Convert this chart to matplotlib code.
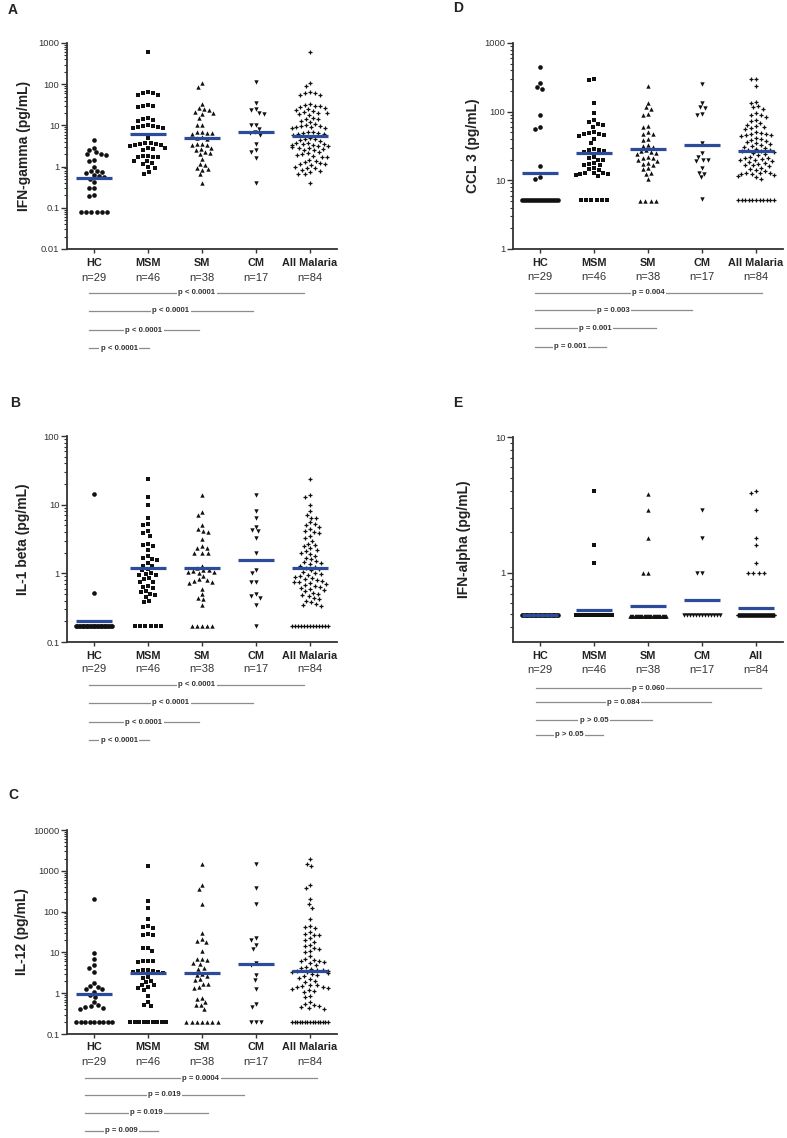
import numpy as np
import matplotlib
matplotlib.use('Agg')
import matplotlib.pyplot as plt
from matplotlib import transforms
from matplotlib.ticker import FuncFormatter, LogLocator, NullFormatter

plt.rcParams['font.family'] = ['Liberation Sans', 'DejaVu Sans']

W, H = 787, 1138

groups = ['HC', 'MSM', 'SM', 'CM', 'All Malaria']
groups_e = ['HC', 'MSM', 'SM', 'CM', 'All']
n_labels = ['n=29', 'n=46', 'n=38', 'n=17', 'n=84']
markers = ['o', 's', '^', 'v', '+']
msize = [11, 9.5, 10, 10, 11]

# ---- A: IFN-gamma
A_HC = [4.4, 2.9, 2.6, 2.2, 2.0, 2.0, 1.9, 1.45, 1.4, 1.0, 0.8, 0.78, 0.75, 0.7, 0.62,
        0.58, 0.55, 0.5, 0.42, 0.3, 0.3, 0.2, 0.19, 0.08, 0.08, 0.08, 0.08, 0.08, 0.08]
A_MSM = [600, 65, 62, 60, 56, 55, 31, 30, 29, 28, 15, 14.5, 13.5, 13, 10, 9.8, 9.5, 9.3,
         9.0, 8.8, 8.5, 4.9, 3.8, 3.7, 3.6, 3.5, 3.4, 3.3, 3.2, 2.9, 2.8, 2.7, 2.6, 1.8,
         1.8, 1.75, 1.7, 1.7, 1.4, 1.35, 1.2, 1.15, 1.0, 0.95, 0.75, 0.65]
A_SM = [107, 87, 33, 26, 25, 24, 21, 20, 19, 15, 10.5, 10.5, 7, 6.8, 6.6, 6.5, 6.3, 5.2,
        5, 4.8, 3.6, 3.5, 3.4, 3.3, 2.8, 2.7, 2.6, 2.2, 2.1, 2.0, 1.5, 1.15, 1.1, 0.9,
        0.87, 0.85, 0.65, 0.41]
A_CM = [113, 35, 25, 23, 20, 19, 10, 10, 8, 7, 6.5, 6, 3.5, 2.5, 2.3, 1.6, 0.4]
A_ALL = [600, 108, 88, 65, 62, 60, 56, 55, 33, 31, 30, 29, 28, 26, 25, 24, 22, 21, 20, 20,
         19, 18, 15, 14.5, 14, 13, 12, 11, 10, 9.8, 9.5, 9.3, 9, 8.8, 8.5, 7, 6.9, 6.7,
         6.5, 6.3, 6.1, 5.9, 5, 4.8, 4.6, 4.4, 4.2, 3.8, 3.7, 3.6, 3.5, 3.4, 3.3, 3.2,
         3.1, 3.0, 2.9, 2.8, 2.7, 2.6, 2.5, 2.2, 2.1, 2.0, 1.9, 1.8, 1.75, 1.7, 1.45,
         1.4, 1.3, 1.2, 1.18, 1.15, 1.1, 1.0, 0.95, 0.9, 0.85, 0.8, 0.72, 0.68, 0.65, 0.4]
A_MED = [0.54, 6.3, 5.0, 7.0, 5.6]

# ---- B: IL-1 beta
B_HC = [14.5, 0.51] + [0.17] * 27
B_MSM = [24, 13, 10, 6.3, 5.2, 5.0, 4.1, 3.9, 3.5, 2.7, 2.6, 2.5, 2.2, 1.8, 1.65, 1.6,
         1.55, 1.4, 1.3, 1.28, 1.15, 1.1, 1.0, 0.98, 0.96, 0.95, 0.85, 0.83, 0.76, 0.74,
         0.66, 0.64, 0.62, 0.56, 0.54, 0.5, 0.48, 0.45, 0.39, 0.38] + [0.17] * 6
B_SM = [14, 7.8, 7.0, 5.0, 4.4, 4.2, 4.0, 3.2, 2.5, 2.3, 2.3, 2.0, 2.0, 1.95, 1.3, 1.2,
        1.1, 1.1, 1.08, 1.06, 1.05, 1.0, 0.9, 0.82, 0.8, 0.78, 0.75, 0.73, 0.6, 0.5,
        0.44, 0.42, 0.35] + [0.17] * 5
B_CM = [14, 8, 6.5, 4.8, 4.3, 4.1, 3.3, 2.0, 1.1, 1.0, 0.76, 0.74, 0.5, 0.46, 0.44, 0.35, 0.17]
B_ALL = [24, 14, 13, 10, 8, 7, 6.5, 6.3, 5.5, 5.2, 5.0, 4.8, 4.4, 4.2, 4.0, 3.9, 3.5, 3.3,
         3.0, 2.7, 2.6, 2.5, 2.3, 2.2, 2.1, 2.0, 1.9, 1.8, 1.7, 1.6, 1.5, 1.45, 1.4, 1.35,
         1.3, 1.25, 1.2, 1.15, 1.1, 1.05, 1.0, 0.98, 0.95, 0.9, 0.88, 0.85, 0.82, 0.8,
         0.78, 0.76, 0.74, 0.72, 0.7, 0.68, 0.66, 0.64, 0.62, 0.6, 0.58, 0.55, 0.52, 0.5,
         0.48, 0.46, 0.44, 0.42, 0.4, 0.38, 0.36, 0.35, 0.34] + [0.17] * 13
B_MED = [0.2, 1.2, 1.2, 1.55, 1.2]

# ---- C: IL-12
C_HC = [200, 9.5, 7, 4.8, 4.2, 3.3, 1.8, 1.5, 1.45, 1.3, 1.25, 1.1, 0.9, 0.8, 0.6, 0.5,
        0.48, 0.45, 0.44, 0.42] + [0.2] * 9
C_MSM = [1300, 180, 120, 65, 45, 42, 40, 28, 27, 26, 13, 12.5, 11, 6.3, 6.1, 6, 5.8, 3.8,
         3.7, 3.6, 3.5, 3.4, 3.3, 3.2, 2.5, 2.4, 2.0, 1.9, 1.6, 1.55, 1.4, 1.35, 1.2,
         0.85, 0.6, 0.5, 0.48] + [0.2] * 9
C_SM = [1500, 450, 350, 150, 30, 21, 19, 18, 11, 7, 6.8, 6.5, 5.5, 5.3, 4.2, 4.0, 2.9,
        2.8, 2.7, 2.2, 2.1, 1.7, 1.65, 1.4, 1.35, 0.75, 0.72, 0.6, 0.52, 0.5, 0.42] + [0.2] * 7
C_CM = [1500, 370, 150, 22, 20, 15, 12, 5.5, 5.0, 2.8, 2.1, 1.3, 0.55, 0.45, 0.2, 0.2, 0.2]
C_ALL = [1900, 1500, 1300, 450, 380, 200, 150, 120, 65, 45, 42, 40, 32, 28, 27, 26, 22,
         20, 18, 15, 14, 13, 12, 11, 10, 8, 7, 6.6, 6.3, 6, 5.8, 5.5, 5, 4.5, 4.2, 4,
         3.8, 3.7, 3.6, 3.5, 3.4, 3.3, 3.2, 3.0, 2.8, 2.6, 2.4, 2.2, 2.0, 1.9, 1.6, 1.55,
         1.5, 1.45, 1.4, 1.35, 1.3, 1.2, 1.15, 1.1, 0.85, 0.8, 0.6, 0.55, 0.5, 0.48,
         0.46, 0.44, 0.42] + [0.2] * 15
C_MED = [0.95, 3.2, 3.1, 5.3, 3.5]

# ---- D: CCL 3
D_HC = [450, 260, 225, 215, 88, 60, 55, 16, 11, 10.5] + [5.2] * 19
D_MSM = [295, 290, 135, 95, 75, 70, 66, 64, 60, 50, 49, 48, 47, 45, 44, 40, 35, 29, 28,
         27.5, 27, 26, 22, 21, 20, 19.5, 18, 17.5, 17, 16.5, 15, 14.5, 14, 13, 12.8, 12.6,
         12.4, 12.2, 12, 11.5] + [5.2] * 6
D_SM = [240, 135, 115, 110, 92, 88, 62, 60, 50, 48, 47, 40, 39, 33, 32, 31, 28, 27, 26,
        25, 24, 22, 21.5, 21, 20, 19, 18, 17.5, 17, 15, 14.5, 13, 12.5, 10.5] + [5.0] * 4
D_CM = [250, 135, 115, 112, 92, 88, 35, 25, 22, 20, 19.5, 19, 15, 13, 12.5, 11, 5.3]
D_ALL = [300, 295, 240, 140, 135, 120, 115, 110, 95, 90, 88, 85, 75, 72, 68, 65, 62, 60,
         58, 55, 50, 49, 48, 47, 46, 45, 44, 42, 40, 39, 38, 36, 35, 34, 33, 32, 31, 30,
         29, 28, 27.5, 27, 26.5, 26, 25, 24, 23, 22, 21.5, 21, 20.5, 20, 19.5, 19, 18.5,
         18, 17.5, 17, 16.5, 16, 15, 14.5, 14, 13.5, 13, 12.8, 12.6, 12.4, 12.2, 12,
         11.5, 11, 10.5] + [5.2] * 11
D_MED = [13, 25, 28.5, 33, 26.5]

# ---- E: IFN-alpha
E_HC = [0.49] * 29
E_MSM = [4.0, 1.6, 1.18] + [0.49] * 43
E_SM = [3.8, 2.9, 1.8, 1.0, 1.0] + [0.48] * 33
E_CM = [2.9, 1.8, 1.0, 1.0] + [0.49] * 13
E_ALL = [4.0, 3.9, 2.9, 1.8, 1.6, 1.18, 1.0, 1.0, 1.0, 1.0] + [0.49] * 74
E_MED = [0.49, 0.53, 0.575, 0.63, 0.55]

A_P = ['p < 0.0001', 'p < 0.0001', 'p < 0.0001', 'p < 0.0001']
B_P = ['p < 0.0001', 'p < 0.0001', 'p < 0.0001', 'p < 0.0001']
C_P = ['p = 0.0004', 'p = 0.019', 'p = 0.019', 'p = 0.009']
D_P = ['p = 0.004', 'p = 0.003', 'p = 0.001', 'p = 0.001']
E_P = ['p = 0.060', 'p = 0.084', 'p > 0.05', 'p > 0.05']


def rect(l, t, r, b):
    return [l / W, 1 - b / H, (r - l) / W, (b - t) / H]


panels = [
    dict(letter='A', box=(67, 43, 337, 249), ylabel='IFN-gamma (pg/mL)', ylab_x=24, let_xy=(8, 10),
         data=[A_HC, A_MSM, A_SM, A_CM, A_ALL], med=A_MED, ylim=(0.01, 1000),
         yt=[0.01, 0.1, 1, 10, 100, 1000], names=groups, lab_off=(14, 29),
         pv=A_P, p_start=-0.09, p_end=[3.89, 2.94, 1.94, 1.02], p_off=[44, 62, 81, 99]),
    dict(letter='B', box=(67, 436, 337, 642), ylabel='IL-1 beta (pg/mL)', ylab_x=23, let_xy=(10, 403),
         data=[B_HC, B_MSM, B_SM, B_CM, B_ALL], med=B_MED, ylim=(0.1, 100),
         yt=[0.1, 1, 10, 100], names=groups, lab_off=(14, 27),
         pv=B_P, p_start=-0.09, p_end=[3.89, 2.94, 1.94, 1.02], p_off=[43, 61, 80, 98]),
    dict(letter='C', box=(67, 830, 337, 1034), ylabel='IL-12 (pg/mL)', ylab_x=22, let_xy=(8, 795),
         data=[C_HC, C_MSM, C_SM, C_CM, C_ALL], med=C_MED, ylim=(0.1, 10000),
         yt=[0.1, 1, 10, 100, 1000, 10000], names=groups, lab_off=(13, 28),
         pv=C_P, p_start=-0.17, p_end=[4.13, 2.78, 2.11, 1.19], p_off=[44, 61, 79, 97]),
    dict(letter='D', box=(513, 43, 783, 249), ylabel='CCL 3 (pg/mL)', ylab_x=473, let_xy=(453, 8),
         data=[D_HC, D_MSM, D_SM, D_CM, D_ALL], med=D_MED, ylim=(1, 1000),
         yt=[1, 10, 100, 1000], names=groups, lab_off=(14, 28),
         pv=D_P, p_start=-0.09, p_end=[4.11, 2.81, 2.15, 1.22], p_off=[44, 61, 79, 98]),
    dict(letter='E', box=(513, 437, 783, 642), ylabel='IFN-alpha (pg/mL)', ylab_x=464, let_xy=(453, 403),
         data=[E_HC, E_MSM, E_SM, E_CM, E_ALL], med=E_MED, ylim=(0.31, 10),
         yt=[1, 10], names=groups_e, lab_off=(14, 28),
         pv=E_P, p_start=-0.07, p_end=[4.09, 3.17, 2.07, 1.17], p_off=[46, 60, 78, 93]),
]


def swarm_x(ax, x0, vals, d=5.2, half=18):
    # beeswarm in pixel space; repeated values are laid in a compressed row
    vals = np.asarray(vals, float)
    ypx = ax.transData.transform(np.column_stack([np.full(len(vals), x0), vals]))[:, 1]
    xl = ax.get_xlim()
    ppu = ax.bbox.width / (xl[1] - xl[0])
    xo = np.zeros(len(vals))
    uniq, counts = np.unique(vals, return_counts=True)
    done = np.zeros(len(vals), bool)
    for u, c in zip(uniq, counts):
        if c >= 3:
            idx = np.where(vals == u)[0]
            sp = min(d, 2 * half / (c - 1))
            xo[idx] = (np.arange(c) - (c - 1) / 2) * sp
            done[idx] = True
    placed = [(xo[i], ypx[i]) for i in np.where(done)[0]]
    rest = [i for i in np.argsort(-ypx, kind='stable') if not done[i]]
    for i in rest:
        y = ypx[i]
        near = [(px, py) for px, py in placed if abs(py - y) < d]
        cands = [0.0]
        for px, py in near:
            w = np.sqrt(d * d - (py - y) ** 2)
            cands += [px - w, px + w]
        cands = sorted(cands, key=lambda c: (abs(c), c))
        best = cands[-1]
        for cx in cands:
            if all(abs(cx - px) >= np.sqrt(d * d - (py - y) ** 2) - 1e-6 for px, py in near):
                best = cx
                break
        best = max(-half, min(half, best))
        xo[i] = best
        placed.append((best, y))
    return x0 + xo / ppu


fig = plt.figure(figsize=(W / 100, H / 100), dpi=100)
dark = '#222222'

for p in panels:
    l, t, r, b = p['box']
    ax = fig.add_axes(rect(l, t, r, b))
    ax.set_yscale('log')
    ax.set_ylim(*p['ylim'])
    ax.set_xlim(-0.5, 4.5)
    for s in ['top', 'right']:
        ax.spines[s].set_visible(False)
    for s in ['left', 'bottom']:
        ax.spines[s].set_color('#333333')
        ax.spines[s].set_linewidth(1.3)
    ax.set_yticks(p['yt'])
    ax.yaxis.set_major_formatter(FuncFormatter(lambda v, _: f'{v:g}'))
    ax.yaxis.set_minor_locator(LogLocator(base=10, subs=np.arange(2, 10), numticks=20))
    ax.yaxis.set_minor_formatter(NullFormatter())
    ax.tick_params(axis='y', which='major', length=4, width=1, colors='#333333',
                   labelsize=6.8, pad=1.5)
    ax.tick_params(axis='y', which='minor', length=2.2, width=0.8, colors='#333333')
    ax.set_xticks(range(5))
    ax.set_xticklabels([''] * 5)
    ax.tick_params(axis='x', length=3, width=1, colors='#333333')

    for i, vals in enumerate(p['data']):
        xs = swarm_x(ax, i, vals)
        if markers[i] == '+':
            ax.scatter(xs, vals, marker='+', s=msize[i], c='#111111', linewidths=0.9,
                       zorder=2, clip_on=False)
        else:
            ax.scatter(xs, vals, marker=markers[i], s=msize[i], c='#111111', linewidths=0,
                       zorder=2, clip_on=False)
        m = p['med'][i]
        ax.plot([i - 0.33, i + 0.33], [m, m], color='#2c4b9a', lw=2.3, zorder=3,
                solid_capstyle='butt')

    # group labels
    for i in range(5):
        ax.annotate(p['names'][i], xy=(i, 0), xycoords=('data', 'axes fraction'),
                    xytext=(0, -p['lab_off'][0]), textcoords='offset pixels',
                    ha='center', va='center', fontsize=7.8, fontweight='bold', color=dark)
        ax.annotate(n_labels[i], xy=(i, 0), xycoords=('data', 'axes fraction'),
                    xytext=(0, -p['lab_off'][1]), textcoords='offset pixels',
                    ha='center', va='center', fontsize=8, color='#333333')

    # p-value bars
    trans = transforms.blended_transform_factory(ax.transData, ax.transAxes)
    hpx = ax.bbox.height
    for k, txt in enumerate(p['pv']):
        yy = -p['p_off'][k] / hpx
        x0, x1 = p['p_start'], p['p_end'][k]
        ax.plot([x0, x1], [yy, yy], color='#8c8c8c', lw=0.9, transform=trans, clip_on=False)
        ax.text((x0 + x1) / 2, yy, txt, transform=trans, ha='center', va='center',
                fontsize=5.6, fontweight='bold', color='#333333',
                bbox=dict(fc='white', ec='none', pad=1.0))

    fig.text(p['ylab_x'] / W, 1 - ((t + b) / 2) / H, p['ylabel'], rotation=90,
             ha='center', va='center', fontsize=10, fontweight='bold', color=dark)
    lx, ly = p['let_xy']
    fig.text(lx / W, 1 - ly / H, p['letter'], ha='left', va='center', fontsize=10,
             fontweight='bold', color=dark)

fig.savefig('out.png', dpi=100, facecolor='white')
